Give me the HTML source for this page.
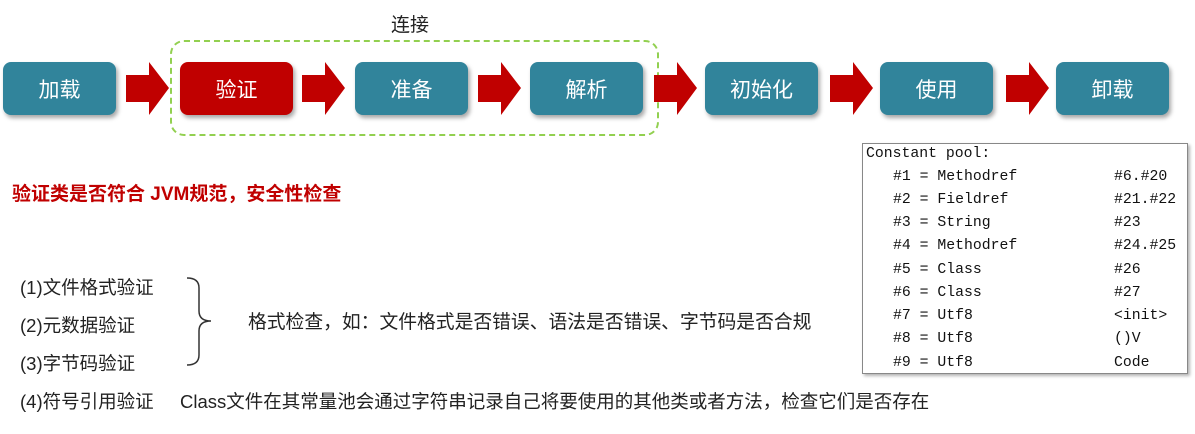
<!DOCTYPE html>
<html><head><meta charset="utf-8"><style>
body{margin:0;width:1195px;height:434px;background:#fff;position:relative;overflow:hidden;font-family:"Liberation Sans","Noto Sans CJK SC",sans-serif}
.b{position:absolute;top:62px;width:113px;height:53px;border-radius:8px;background:#31849b;color:#fff;font-size:21px;display:flex;align-items:center;justify-content:center;box-shadow:2px 3px 4px rgba(0,0,0,.35)}
.t{position:absolute;font-size:18.5px;color:#222;white-space:nowrap}
.cp{position:absolute;left:862px;top:143px;width:324px;height:229px;border:1px solid #888;box-shadow:2px 2px 3px rgba(0,0,0,.3);font-family:"Liberation Mono",monospace;font-size:14.8px;color:#111}
.cp div{position:absolute;white-space:pre}
</style></head><body>
<div class="t" style="left:391px;top:10px;font-size:19px">连接</div>
<div style="position:absolute;left:170px;top:40px;width:485px;height:92px;border:2px dashed #92d050;border-radius:14px"></div>
<div class="b" style="left:3px">加载</div>
<div class="b" style="left:180px;background:#c00000">验证</div>
<div class="b" style="left:355px">准备</div>
<div class="b" style="left:530px">解析</div>
<div class="b" style="left:705px">初始化</div>
<div class="b" style="left:880px">使用</div>
<div class="b" style="left:1056px">卸载</div>
<svg width="1195" height="140" style="position:absolute;left:0;top:0">
<defs><g id="ar"><polygon points="0,13 23,13 23,0 43,26 23,53 23,40 0,40" fill="#c00000"/></g></defs>
<use href="#ar" x="126" y="62"/><use href="#ar" x="302" y="62"/><use href="#ar" x="478" y="62"/>
<use href="#ar" x="654" y="62"/><use href="#ar" x="830" y="62"/><use href="#ar" x="1006" y="62"/>
</svg>
<div class="t" style="left:12px;top:179px;color:#c00000;font-weight:bold;font-size:19px">验证类是否符合 JVM规范，安全性检查</div>
<div class="t" style="left:20px;top:274px">(1)文件格式验证</div>
<div class="t" style="left:20px;top:312px">(2)元数据验证</div>
<div class="t" style="left:20px;top:350px">(3)字节码验证</div>
<div class="t" style="left:20px;top:388px">(4)符号引用验证</div>
<svg width="40" height="100" style="position:absolute;left:183px;top:273px"><path d="M4,5 Q16,5 16,15 L16,38 Q16,48 28,48 Q16,48 16,58 L16,82 Q16,92 4,92" fill="none" stroke="#333" stroke-width="1.5"/></svg>
<div class="t" style="left:248px;top:307px;font-size:18.8px">格式检查，如：文件格式是否错误、语法是否错误、字节码是否合规</div>
<div class="t" style="left:180px;top:388px">Class文件在其常量池会通过字符串记录自己将要使用的其他类或者方法，检查它们是否存在</div>
<div class="cp">
<div style="left:3px;top:2px">Constant pool:</div>
<div style="left:30px;top:25px">#1 = Methodref</div><div style="left:251px;top:25px">#6.#20</div>
<div style="left:30px;top:48px">#2 = Fieldref</div><div style="left:251px;top:48px">#21.#22</div>
<div style="left:30px;top:71px">#3 = String</div><div style="left:251px;top:71px">#23</div>
<div style="left:30px;top:94px">#4 = Methodref</div><div style="left:251px;top:94px">#24.#25</div>
<div style="left:30px;top:118px">#5 = Class</div><div style="left:251px;top:118px">#26</div>
<div style="left:30px;top:141px">#6 = Class</div><div style="left:251px;top:141px">#27</div>
<div style="left:30px;top:164px">#7 = Utf8</div><div style="left:251px;top:164px">&lt;init&gt;</div>
<div style="left:30px;top:187px">#8 = Utf8</div><div style="left:251px;top:187px">()V</div>
<div style="left:30px;top:211px">#9 = Utf8</div><div style="left:251px;top:211px">Code</div>
</div>
</body></html>
